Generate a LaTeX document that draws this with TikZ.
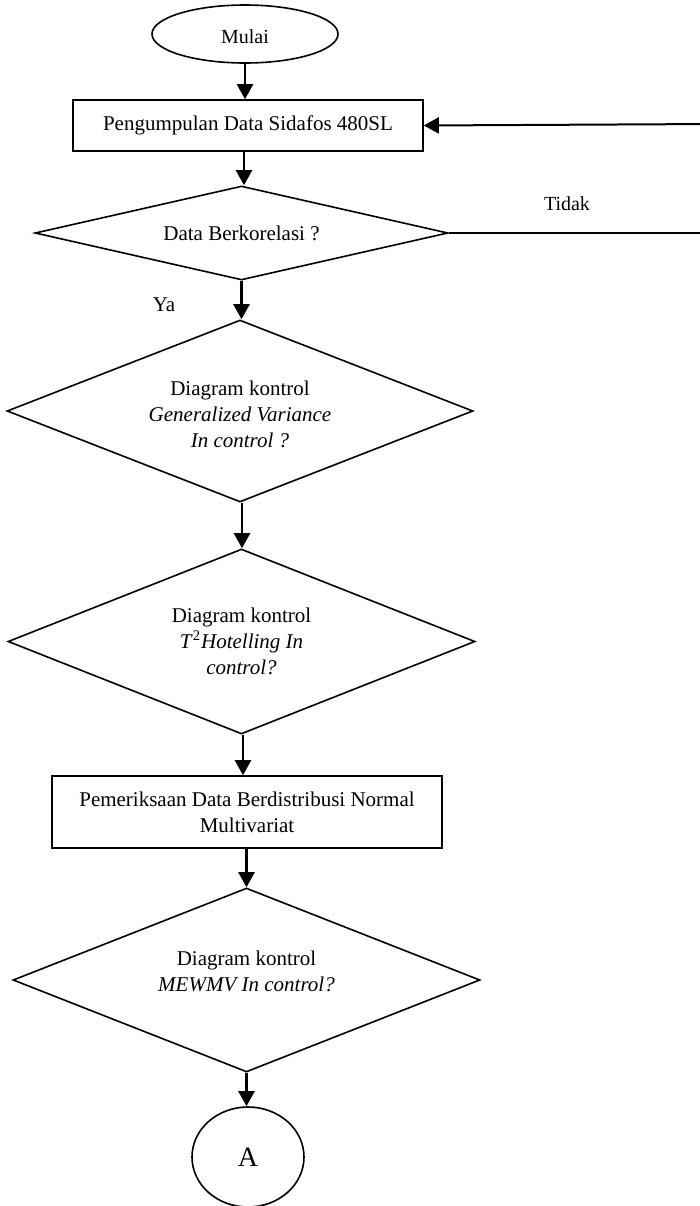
\documentclass[tikz,border=0pt]{standalone}
\usepackage{fontspec}
\setmainfont{Liberation Serif}
\usetikzlibrary{shapes.geometric,arrows.meta}
\tikzset{
  shp/.style={draw=black,line width=0.8pt,inner sep=2pt,align=center,font=\fontsize{10.5}{13}\selectfont},
  procbox/.style={shp,rectangle},
  decis/.style={shp,diamond,shape aspect=2.5},
  term/.style={shp,ellipse},
  lbl/.style={font=\fontsize{10.5}{13}\selectfont,inner sep=0pt},
  intext/.style={lbl,align=center},
  arr/.style={line width=1.2pt,-{Triangle[length=7.5pt,width=8pt]}},
  thinarr/.style={line width=1pt,-{Triangle[length=7.5pt,width=8pt]}},
  ln/.style={line width=1pt}
}
\begin{document}
\begin{tikzpicture}[x=0.5pt,y=-0.5pt]
\useasboundingbox (0,0) rectangle (700,1206);
\clip (0,0) rectangle (700,1206);
\node[term,minimum width=93pt,minimum height=29pt,font=\fontsize{10}{12}\selectfont,
  label={[intext,font=\fontsize{10}{12}\selectfont,yshift=-1.5pt]center:Mulai}] (start) at (245,34) {};
\node[procbox,minimum width=175pt,minimum height=25.5pt] (b1) at (248,125.5) {Pengumpulan Data Sidafos 480SL};
\node[decis,minimum width=206.5pt,minimum height=47pt] (d1) at (241.5,233) {Data Berkorelasi ?};
\node[decis,minimum width=233pt,minimum height=91pt,
  label={[intext,yshift=-1.5pt]center:Diagram kontrol\\\textit{Generalized Variance}\\\textit{In control ?}}] (d2) at (240,411) {};
\node[decis,minimum width=233.5pt,minimum height=92.5pt] (d3) at (241.5,641.5) {Diagram kontrol\\\textit{T}\textsuperscript{2}\textit{Hotelling In}\\\textit{control?}};
\node[procbox,minimum width=195pt,minimum height=36pt] (b2) at (247,812) {Pemeriksaan Data Berdistribusi Normal\\Multivariat};
\node[decis,minimum width=233.5pt,minimum height=92pt,
  label={[intext,yshift=4.5pt]center:Diagram kontrol\\\textit{MEWMV In control?}}] (d4) at (246.5,980) {};
\node[term,minimum width=56pt,minimum height=50pt,inner sep=0pt,font=\fontsize{14}{16}\selectfont] (A) at (248,1157) {A};
\node[lbl] (ya) at (164,305) {Ya};
\node[lbl,font=\fontsize{10}{12}\selectfont] (tidak) at (567,204) {Tidak};
\draw[arr] (start.south) -- (start.south |- b1.north);
\draw[arr] (b1.south -| d1.north) ++(2.5,0) coordinate (b1s) -- (b1s |- d1.north);
\draw[arr] (d1.south) -- (d1.south |- d2.north);
\draw[arr] (d2.south) ++(2,0) coordinate (d2s) -- (d2s |- d3.north);
\draw[arr] (d3.south) ++(1.5,0) coordinate (d3s) -- (d3s |- b2.north);
\draw[arr] (d4.north |- b2.south) -- (d4.north);
\draw[arr] (d4.south) -- (d4.south |- A.north);
\coordinate (fr1) at (712,233);
\coordinate (fr2) at (712,124);
\draw[ln] (d1.east) -- (fr1) -- (fr2);
\draw[thinarr] (fr2) -- (b1.east);
\end{tikzpicture}
\end{document}
